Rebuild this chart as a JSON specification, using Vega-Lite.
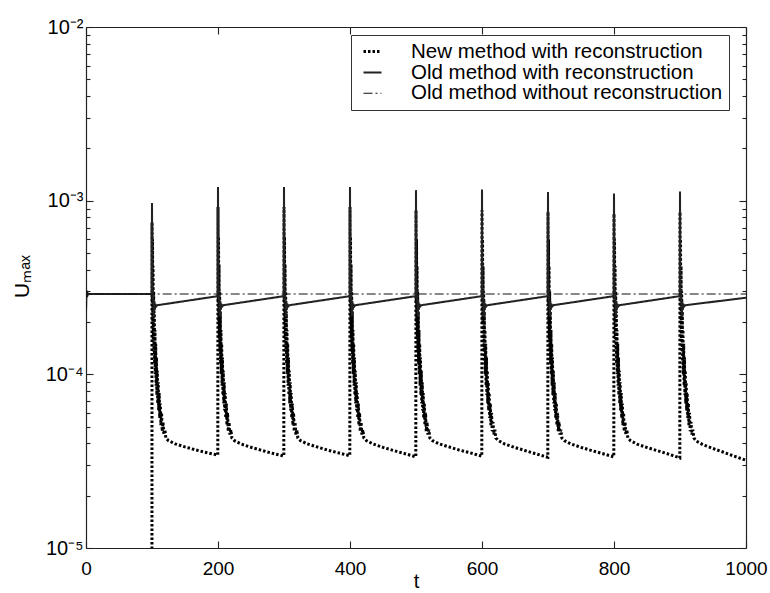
{
  "$schema": "https://vega.github.io/schema/vega-lite/v6.json",
  "width": 660,
  "height": 521,
  "autosize": "none",
  "padding": {"left": 86, "top": 27, "right": 24, "bottom": 45},
  "background": "white",
  "config": {
    "view": {"stroke": null},
    "axis": {"domainColor": "#222", "domainWidth": 1.2, "ticks": true, "tickColor": "#222", "tickWidth": 1.1, "labelColor": "#000", "labelFont": "Liberation Sans", "labelFontSize": 19, "grid": false, "titleFont": "Liberation Sans", "titleFontWeight": "normal", "titleColor": "#000", "titleFontSize": 20, "labelOverlap": false, "labelFlush": false, "labelBound": false, "zindex": 1}
  },
  "data": {"values": [
    {"t":0,"u":1e-6,"s":"N"},{"t":99.9,"u":1e-6,"s":"N"},
    {"t":100,"u":7.5e-4,"s":"N"},{"t":100.4,"u":2.6e-4,"s":"N"},{"t":100.8,"u":6.0e-4,"s":"N"},{"t":101.2,"u":2.0e-4,"s":"N"},{"t":101.6,"u":4.2e-4,"s":"N"},{"t":102,"u":1.6e-4,"s":"N"},{"t":102.5,"u":3.0e-4,"s":"N"},{"t":103,"u":1.35e-4,"s":"N"},{"t":103.5,"u":2.3e-4,"s":"N"},{"t":104,"u":1.15e-4,"s":"N"},{"t":104.5,"u":1.8e-4,"s":"N"},{"t":105,"u":1.0e-4,"s":"N"},{"t":105.6,"u":1.5e-4,"s":"N"},{"t":106.2,"u":8.6e-5,"s":"N"},{"t":106.8,"u":1.25e-4,"s":"N"},{"t":107.4,"u":7.6e-5,"s":"N"},{"t":108,"u":1.05e-4,"s":"N"},{"t":108.7,"u":6.8e-5,"s":"N"},{"t":109.4,"u":9.0e-5,"s":"N"},{"t":110.1,"u":6.2e-5,"s":"N"},{"t":110.9,"u":7.8e-5,"s":"N"},{"t":111.7,"u":5.6e-5,"s":"N"},{"t":112.6,"u":6.8e-5,"s":"N"},{"t":113.5,"u":5.1e-5,"s":"N"},{"t":114.5,"u":6.0e-5,"s":"N"},{"t":115.5,"u":4.7e-5,"s":"N"},{"t":116.7,"u":5.3e-5,"s":"N"},{"t":118,"u":4.5e-5,"s":"N"},{"t":119.5,"u":4.8e-5,"s":"N"},{"t":121,"u":4.3e-5,"s":"N"},{"t":125,"u":4.15e-5,"s":"N"},{"t":135,"u":3.98e-5,"s":"N"},{"t":150,"u":3.82e-5,"s":"N"},{"t":165,"u":3.68e-5,"s":"N"},{"t":180,"u":3.56e-5,"s":"N"},{"t":199.7,"u":3.43e-5,"s":"N"},
    {"t":200,"u":9.2e-4,"s":"N"},{"t":200.4,"u":2.6e-4,"s":"N"},{"t":200.8,"u":6.2e-4,"s":"N"},{"t":201.2,"u":2.0e-4,"s":"N"},{"t":201.6,"u":4.3e-4,"s":"N"},{"t":202,"u":1.6e-4,"s":"N"},{"t":202.5,"u":3.0e-4,"s":"N"},{"t":203,"u":1.35e-4,"s":"N"},{"t":203.5,"u":2.3e-4,"s":"N"},{"t":204,"u":1.15e-4,"s":"N"},{"t":204.5,"u":1.8e-4,"s":"N"},{"t":205,"u":1.0e-4,"s":"N"},{"t":205.6,"u":1.5e-4,"s":"N"},{"t":206.2,"u":8.6e-5,"s":"N"},{"t":206.8,"u":1.25e-4,"s":"N"},{"t":207.4,"u":7.6e-5,"s":"N"},{"t":208,"u":1.05e-4,"s":"N"},{"t":208.7,"u":6.8e-5,"s":"N"},{"t":209.4,"u":9.0e-5,"s":"N"},{"t":210.1,"u":6.2e-5,"s":"N"},{"t":210.9,"u":7.8e-5,"s":"N"},{"t":211.7,"u":5.6e-5,"s":"N"},{"t":212.6,"u":6.8e-5,"s":"N"},{"t":213.5,"u":5.1e-5,"s":"N"},{"t":214.5,"u":6.0e-5,"s":"N"},{"t":215.5,"u":4.7e-5,"s":"N"},{"t":216.7,"u":5.3e-5,"s":"N"},{"t":218,"u":4.5e-5,"s":"N"},{"t":219.5,"u":4.8e-5,"s":"N"},{"t":221,"u":4.3e-5,"s":"N"},{"t":225,"u":4.15e-5,"s":"N"},{"t":235,"u":3.97e-5,"s":"N"},{"t":250,"u":3.8e-5,"s":"N"},{"t":265,"u":3.66e-5,"s":"N"},{"t":280,"u":3.53e-5,"s":"N"},{"t":299.7,"u":3.38e-5,"s":"N"},
    {"t":300,"u":9.2e-4,"s":"N"},{"t":300.4,"u":2.6e-4,"s":"N"},{"t":300.8,"u":6.2e-4,"s":"N"},{"t":301.2,"u":2.0e-4,"s":"N"},{"t":301.6,"u":4.3e-4,"s":"N"},{"t":302,"u":1.6e-4,"s":"N"},{"t":302.5,"u":3.0e-4,"s":"N"},{"t":303,"u":1.35e-4,"s":"N"},{"t":303.5,"u":2.3e-4,"s":"N"},{"t":304,"u":1.15e-4,"s":"N"},{"t":304.5,"u":1.8e-4,"s":"N"},{"t":305,"u":1.0e-4,"s":"N"},{"t":305.6,"u":1.5e-4,"s":"N"},{"t":306.2,"u":8.6e-5,"s":"N"},{"t":306.8,"u":1.25e-4,"s":"N"},{"t":307.4,"u":7.6e-5,"s":"N"},{"t":308,"u":1.05e-4,"s":"N"},{"t":308.7,"u":6.8e-5,"s":"N"},{"t":309.4,"u":9.0e-5,"s":"N"},{"t":310.1,"u":6.2e-5,"s":"N"},{"t":310.9,"u":7.8e-5,"s":"N"},{"t":311.7,"u":5.6e-5,"s":"N"},{"t":312.6,"u":6.8e-5,"s":"N"},{"t":313.5,"u":5.1e-5,"s":"N"},{"t":314.5,"u":6.0e-5,"s":"N"},{"t":315.5,"u":4.7e-5,"s":"N"},{"t":316.7,"u":5.3e-5,"s":"N"},{"t":318,"u":4.5e-5,"s":"N"},{"t":319.5,"u":4.8e-5,"s":"N"},{"t":321,"u":4.3e-5,"s":"N"},{"t":325,"u":4.15e-5,"s":"N"},{"t":335,"u":3.98e-5,"s":"N"},{"t":350,"u":3.82e-5,"s":"N"},{"t":365,"u":3.67e-5,"s":"N"},{"t":380,"u":3.55e-5,"s":"N"},{"t":399.7,"u":3.4e-5,"s":"N"},
    {"t":400,"u":9.2e-4,"s":"N"},{"t":400.4,"u":2.6e-4,"s":"N"},{"t":400.8,"u":6.2e-4,"s":"N"},{"t":401.2,"u":2.0e-4,"s":"N"},{"t":401.6,"u":4.3e-4,"s":"N"},{"t":402,"u":1.6e-4,"s":"N"},{"t":402.5,"u":3.0e-4,"s":"N"},{"t":403,"u":1.35e-4,"s":"N"},{"t":403.5,"u":2.3e-4,"s":"N"},{"t":404,"u":1.15e-4,"s":"N"},{"t":404.5,"u":1.8e-4,"s":"N"},{"t":405,"u":1.0e-4,"s":"N"},{"t":405.6,"u":1.5e-4,"s":"N"},{"t":406.2,"u":8.6e-5,"s":"N"},{"t":406.8,"u":1.25e-4,"s":"N"},{"t":407.4,"u":7.6e-5,"s":"N"},{"t":408,"u":1.05e-4,"s":"N"},{"t":408.7,"u":6.8e-5,"s":"N"},{"t":409.4,"u":9.0e-5,"s":"N"},{"t":410.1,"u":6.2e-5,"s":"N"},{"t":410.9,"u":7.8e-5,"s":"N"},{"t":411.7,"u":5.6e-5,"s":"N"},{"t":412.6,"u":6.8e-5,"s":"N"},{"t":413.5,"u":5.1e-5,"s":"N"},{"t":414.5,"u":6.0e-5,"s":"N"},{"t":415.5,"u":4.7e-5,"s":"N"},{"t":416.7,"u":5.3e-5,"s":"N"},{"t":418,"u":4.5e-5,"s":"N"},{"t":419.5,"u":4.8e-5,"s":"N"},{"t":421,"u":4.3e-5,"s":"N"},{"t":425,"u":4.15e-5,"s":"N"},{"t":435,"u":3.97e-5,"s":"N"},{"t":450,"u":3.8e-5,"s":"N"},{"t":465,"u":3.65e-5,"s":"N"},{"t":480,"u":3.52e-5,"s":"N"},{"t":499.7,"u":3.35e-5,"s":"N"},
    {"t":500,"u":8.8e-4,"s":"N"},{"t":500.4,"u":2.6e-4,"s":"N"},{"t":500.8,"u":6.0e-4,"s":"N"},{"t":501.2,"u":2.0e-4,"s":"N"},{"t":501.6,"u":4.2e-4,"s":"N"},{"t":502,"u":1.6e-4,"s":"N"},{"t":502.5,"u":3.0e-4,"s":"N"},{"t":503,"u":1.35e-4,"s":"N"},{"t":503.5,"u":2.3e-4,"s":"N"},{"t":504,"u":1.15e-4,"s":"N"},{"t":504.5,"u":1.8e-4,"s":"N"},{"t":505,"u":1.0e-4,"s":"N"},{"t":505.6,"u":1.5e-4,"s":"N"},{"t":506.2,"u":8.6e-5,"s":"N"},{"t":506.8,"u":1.25e-4,"s":"N"},{"t":507.4,"u":7.6e-5,"s":"N"},{"t":508,"u":1.05e-4,"s":"N"},{"t":508.7,"u":6.8e-5,"s":"N"},{"t":509.4,"u":9.0e-5,"s":"N"},{"t":510.1,"u":6.2e-5,"s":"N"},{"t":510.9,"u":7.8e-5,"s":"N"},{"t":511.7,"u":5.6e-5,"s":"N"},{"t":512.6,"u":6.8e-5,"s":"N"},{"t":513.5,"u":5.1e-5,"s":"N"},{"t":514.5,"u":6.0e-5,"s":"N"},{"t":515.5,"u":4.7e-5,"s":"N"},{"t":516.7,"u":5.3e-5,"s":"N"},{"t":518,"u":4.5e-5,"s":"N"},{"t":519.5,"u":4.8e-5,"s":"N"},{"t":521,"u":4.3e-5,"s":"N"},{"t":525,"u":4.15e-5,"s":"N"},{"t":535,"u":3.98e-5,"s":"N"},{"t":550,"u":3.82e-5,"s":"N"},{"t":565,"u":3.67e-5,"s":"N"},{"t":580,"u":3.55e-5,"s":"N"},{"t":599.7,"u":3.38e-5,"s":"N"},
    {"t":600,"u":8.8e-4,"s":"N"},{"t":600.4,"u":2.6e-4,"s":"N"},{"t":600.8,"u":6.0e-4,"s":"N"},{"t":601.2,"u":2.0e-4,"s":"N"},{"t":601.6,"u":4.2e-4,"s":"N"},{"t":602,"u":1.6e-4,"s":"N"},{"t":602.5,"u":3.0e-4,"s":"N"},{"t":603,"u":1.35e-4,"s":"N"},{"t":603.5,"u":2.3e-4,"s":"N"},{"t":604,"u":1.15e-4,"s":"N"},{"t":604.5,"u":1.8e-4,"s":"N"},{"t":605,"u":1.0e-4,"s":"N"},{"t":605.6,"u":1.5e-4,"s":"N"},{"t":606.2,"u":8.6e-5,"s":"N"},{"t":606.8,"u":1.25e-4,"s":"N"},{"t":607.4,"u":7.6e-5,"s":"N"},{"t":608,"u":1.05e-4,"s":"N"},{"t":608.7,"u":6.8e-5,"s":"N"},{"t":609.4,"u":9.0e-5,"s":"N"},{"t":610.1,"u":6.2e-5,"s":"N"},{"t":610.9,"u":7.8e-5,"s":"N"},{"t":611.7,"u":5.6e-5,"s":"N"},{"t":612.6,"u":6.8e-5,"s":"N"},{"t":613.5,"u":5.1e-5,"s":"N"},{"t":614.5,"u":6.0e-5,"s":"N"},{"t":615.5,"u":4.7e-5,"s":"N"},{"t":616.7,"u":5.3e-5,"s":"N"},{"t":618,"u":4.5e-5,"s":"N"},{"t":619.5,"u":4.8e-5,"s":"N"},{"t":621,"u":4.3e-5,"s":"N"},{"t":625,"u":4.15e-5,"s":"N"},{"t":635,"u":3.96e-5,"s":"N"},{"t":650,"u":3.79e-5,"s":"N"},{"t":665,"u":3.64e-5,"s":"N"},{"t":680,"u":3.5e-5,"s":"N"},{"t":699.7,"u":3.33e-5,"s":"N"},
    {"t":700,"u":8.6e-4,"s":"N"},{"t":700.4,"u":2.6e-4,"s":"N"},{"t":700.8,"u":6.0e-4,"s":"N"},{"t":701.2,"u":2.0e-4,"s":"N"},{"t":701.6,"u":4.2e-4,"s":"N"},{"t":702,"u":1.6e-4,"s":"N"},{"t":702.5,"u":3.0e-4,"s":"N"},{"t":703,"u":1.35e-4,"s":"N"},{"t":703.5,"u":2.3e-4,"s":"N"},{"t":704,"u":1.15e-4,"s":"N"},{"t":704.5,"u":1.8e-4,"s":"N"},{"t":705,"u":1.0e-4,"s":"N"},{"t":705.6,"u":1.5e-4,"s":"N"},{"t":706.2,"u":8.6e-5,"s":"N"},{"t":706.8,"u":1.25e-4,"s":"N"},{"t":707.4,"u":7.6e-5,"s":"N"},{"t":708,"u":1.05e-4,"s":"N"},{"t":708.7,"u":6.8e-5,"s":"N"},{"t":709.4,"u":9.0e-5,"s":"N"},{"t":710.1,"u":6.2e-5,"s":"N"},{"t":710.9,"u":7.8e-5,"s":"N"},{"t":711.7,"u":5.6e-5,"s":"N"},{"t":712.6,"u":6.8e-5,"s":"N"},{"t":713.5,"u":5.1e-5,"s":"N"},{"t":714.5,"u":6.0e-5,"s":"N"},{"t":715.5,"u":4.7e-5,"s":"N"},{"t":716.7,"u":5.3e-5,"s":"N"},{"t":718,"u":4.5e-5,"s":"N"},{"t":719.5,"u":4.8e-5,"s":"N"},{"t":721,"u":4.3e-5,"s":"N"},{"t":725,"u":4.15e-5,"s":"N"},{"t":735,"u":3.97e-5,"s":"N"},{"t":750,"u":3.8e-5,"s":"N"},{"t":765,"u":3.65e-5,"s":"N"},{"t":780,"u":3.52e-5,"s":"N"},{"t":799.7,"u":3.35e-5,"s":"N"},
    {"t":800,"u":8.4e-4,"s":"N"},{"t":800.4,"u":2.6e-4,"s":"N"},{"t":800.8,"u":6.0e-4,"s":"N"},{"t":801.2,"u":2.0e-4,"s":"N"},{"t":801.6,"u":4.2e-4,"s":"N"},{"t":802,"u":1.6e-4,"s":"N"},{"t":802.5,"u":3.0e-4,"s":"N"},{"t":803,"u":1.35e-4,"s":"N"},{"t":803.5,"u":2.3e-4,"s":"N"},{"t":804,"u":1.15e-4,"s":"N"},{"t":804.5,"u":1.8e-4,"s":"N"},{"t":805,"u":1.0e-4,"s":"N"},{"t":805.6,"u":1.5e-4,"s":"N"},{"t":806.2,"u":8.6e-5,"s":"N"},{"t":806.8,"u":1.25e-4,"s":"N"},{"t":807.4,"u":7.6e-5,"s":"N"},{"t":808,"u":1.05e-4,"s":"N"},{"t":808.7,"u":6.8e-5,"s":"N"},{"t":809.4,"u":9.0e-5,"s":"N"},{"t":810.1,"u":6.2e-5,"s":"N"},{"t":810.9,"u":7.8e-5,"s":"N"},{"t":811.7,"u":5.6e-5,"s":"N"},{"t":812.6,"u":6.8e-5,"s":"N"},{"t":813.5,"u":5.1e-5,"s":"N"},{"t":814.5,"u":6.0e-5,"s":"N"},{"t":815.5,"u":4.7e-5,"s":"N"},{"t":816.7,"u":5.3e-5,"s":"N"},{"t":818,"u":4.5e-5,"s":"N"},{"t":819.5,"u":4.8e-5,"s":"N"},{"t":821,"u":4.3e-5,"s":"N"},{"t":825,"u":4.15e-5,"s":"N"},{"t":835,"u":3.96e-5,"s":"N"},{"t":850,"u":3.79e-5,"s":"N"},{"t":865,"u":3.64e-5,"s":"N"},{"t":880,"u":3.5e-5,"s":"N"},{"t":899.7,"u":3.3e-5,"s":"N"},
    {"t":900,"u":8.6e-4,"s":"N"},{"t":900.4,"u":2.6e-4,"s":"N"},{"t":900.8,"u":6.0e-4,"s":"N"},{"t":901.2,"u":2.0e-4,"s":"N"},{"t":901.6,"u":4.2e-4,"s":"N"},{"t":902,"u":1.6e-4,"s":"N"},{"t":902.5,"u":3.0e-4,"s":"N"},{"t":903,"u":1.35e-4,"s":"N"},{"t":903.5,"u":2.3e-4,"s":"N"},{"t":904,"u":1.15e-4,"s":"N"},{"t":904.5,"u":1.8e-4,"s":"N"},{"t":905,"u":1.0e-4,"s":"N"},{"t":905.6,"u":1.5e-4,"s":"N"},{"t":906.2,"u":8.6e-5,"s":"N"},{"t":906.8,"u":1.25e-4,"s":"N"},{"t":907.4,"u":7.6e-5,"s":"N"},{"t":908,"u":1.05e-4,"s":"N"},{"t":908.7,"u":6.8e-5,"s":"N"},{"t":909.4,"u":9.0e-5,"s":"N"},{"t":910.1,"u":6.2e-5,"s":"N"},{"t":910.9,"u":7.8e-5,"s":"N"},{"t":911.7,"u":5.6e-5,"s":"N"},{"t":912.6,"u":6.8e-5,"s":"N"},{"t":913.5,"u":5.1e-5,"s":"N"},{"t":914.5,"u":6.0e-5,"s":"N"},{"t":915.5,"u":4.7e-5,"s":"N"},{"t":916.7,"u":5.3e-5,"s":"N"},{"t":918,"u":4.5e-5,"s":"N"},{"t":919.5,"u":4.8e-5,"s":"N"},{"t":921,"u":4.3e-5,"s":"N"},{"t":925,"u":4.12e-5,"s":"N"},{"t":935,"u":3.93e-5,"s":"N"},{"t":950,"u":3.74e-5,"s":"N"},{"t":965,"u":3.57e-5,"s":"N"},{"t":980,"u":3.4e-5,"s":"N"},{"t":1000,"u":3.2e-5,"s":"N"},
    {"t":0,"u":2.3e-4,"s":"O"},{"t":0.8,"u":3.05e-4,"s":"O"},{"t":1.6,"u":2.78e-4,"s":"O"},{"t":2.4,"u":2.95e-4,"s":"O"},{"t":3.5,"u":2.88e-4,"s":"O"},{"t":5,"u":2.9e-4,"s":"O"},{"t":99.8,"u":2.9e-4,"s":"O"},
    {"t":100,"u":9.7e-4,"s":"O"},{"t":100.4,"u":3.1e-4,"s":"O"},{"t":100.8,"u":2.7e-4,"s":"O"},{"t":101.2,"u":3.1e-4,"s":"O"},{"t":101.6,"u":2.75e-4,"s":"O"},{"t":102.2,"u":2.6e-4,"s":"O"},{"t":102.8,"u":2.15e-4,"s":"O"},{"t":103.4,"u":2.65e-4,"s":"O"},{"t":104.2,"u":2.35e-4,"s":"O"},{"t":105,"u":2.55e-4,"s":"O"},{"t":106,"u":2.45e-4,"s":"O"},{"t":108,"u":2.5e-4,"s":"O"},{"t":199.8,"u":2.82e-4,"s":"O"},
    {"t":200,"u":1.2e-3,"s":"O"},{"t":200.4,"u":3.1e-4,"s":"O"},{"t":200.8,"u":2.7e-4,"s":"O"},{"t":201.2,"u":3.1e-4,"s":"O"},{"t":201.6,"u":2.75e-4,"s":"O"},{"t":202.2,"u":2.6e-4,"s":"O"},{"t":202.8,"u":2.15e-4,"s":"O"},{"t":203.4,"u":2.65e-4,"s":"O"},{"t":204.2,"u":2.35e-4,"s":"O"},{"t":205,"u":2.55e-4,"s":"O"},{"t":206,"u":2.45e-4,"s":"O"},{"t":208,"u":2.5e-4,"s":"O"},{"t":299.8,"u":2.82e-4,"s":"O"},
    {"t":300,"u":1.2e-3,"s":"O"},{"t":300.4,"u":3.1e-4,"s":"O"},{"t":300.8,"u":2.7e-4,"s":"O"},{"t":301.2,"u":3.1e-4,"s":"O"},{"t":301.6,"u":2.75e-4,"s":"O"},{"t":302.2,"u":2.6e-4,"s":"O"},{"t":302.8,"u":2.15e-4,"s":"O"},{"t":303.4,"u":2.65e-4,"s":"O"},{"t":304.2,"u":2.35e-4,"s":"O"},{"t":305,"u":2.55e-4,"s":"O"},{"t":306,"u":2.45e-4,"s":"O"},{"t":308,"u":2.5e-4,"s":"O"},{"t":399.8,"u":2.82e-4,"s":"O"},
    {"t":400,"u":1.2e-3,"s":"O"},{"t":400.4,"u":3.1e-4,"s":"O"},{"t":400.8,"u":2.7e-4,"s":"O"},{"t":401.2,"u":3.1e-4,"s":"O"},{"t":401.6,"u":2.75e-4,"s":"O"},{"t":402.2,"u":2.6e-4,"s":"O"},{"t":402.8,"u":2.15e-4,"s":"O"},{"t":403.4,"u":2.65e-4,"s":"O"},{"t":404.2,"u":2.35e-4,"s":"O"},{"t":405,"u":2.55e-4,"s":"O"},{"t":406,"u":2.45e-4,"s":"O"},{"t":408,"u":2.5e-4,"s":"O"},{"t":499.8,"u":2.82e-4,"s":"O"},
    {"t":500,"u":1.15e-3,"s":"O"},{"t":500.4,"u":3.1e-4,"s":"O"},{"t":500.8,"u":2.7e-4,"s":"O"},{"t":501.2,"u":3.1e-4,"s":"O"},{"t":501.6,"u":2.75e-4,"s":"O"},{"t":502.2,"u":2.6e-4,"s":"O"},{"t":502.8,"u":2.15e-4,"s":"O"},{"t":503.4,"u":2.65e-4,"s":"O"},{"t":504.2,"u":2.35e-4,"s":"O"},{"t":505,"u":2.55e-4,"s":"O"},{"t":506,"u":2.45e-4,"s":"O"},{"t":508,"u":2.5e-4,"s":"O"},{"t":599.8,"u":2.82e-4,"s":"O"},
    {"t":600,"u":1.16e-3,"s":"O"},{"t":600.4,"u":3.1e-4,"s":"O"},{"t":600.8,"u":2.7e-4,"s":"O"},{"t":601.2,"u":3.1e-4,"s":"O"},{"t":601.6,"u":2.75e-4,"s":"O"},{"t":602.2,"u":2.6e-4,"s":"O"},{"t":602.8,"u":2.15e-4,"s":"O"},{"t":603.4,"u":2.65e-4,"s":"O"},{"t":604.2,"u":2.35e-4,"s":"O"},{"t":605,"u":2.55e-4,"s":"O"},{"t":606,"u":2.45e-4,"s":"O"},{"t":608,"u":2.5e-4,"s":"O"},{"t":699.8,"u":2.82e-4,"s":"O"},
    {"t":700,"u":1.12e-3,"s":"O"},{"t":700.4,"u":3.1e-4,"s":"O"},{"t":700.8,"u":2.7e-4,"s":"O"},{"t":701.2,"u":3.1e-4,"s":"O"},{"t":701.6,"u":2.75e-4,"s":"O"},{"t":702.2,"u":2.6e-4,"s":"O"},{"t":702.8,"u":2.15e-4,"s":"O"},{"t":703.4,"u":2.65e-4,"s":"O"},{"t":704.2,"u":2.35e-4,"s":"O"},{"t":705,"u":2.55e-4,"s":"O"},{"t":706,"u":2.45e-4,"s":"O"},{"t":708,"u":2.5e-4,"s":"O"},{"t":799.8,"u":2.82e-4,"s":"O"},
    {"t":800,"u":1.1e-3,"s":"O"},{"t":800.4,"u":3.1e-4,"s":"O"},{"t":800.8,"u":2.7e-4,"s":"O"},{"t":801.2,"u":3.1e-4,"s":"O"},{"t":801.6,"u":2.75e-4,"s":"O"},{"t":802.2,"u":2.6e-4,"s":"O"},{"t":802.8,"u":2.15e-4,"s":"O"},{"t":803.4,"u":2.65e-4,"s":"O"},{"t":804.2,"u":2.35e-4,"s":"O"},{"t":805,"u":2.55e-4,"s":"O"},{"t":806,"u":2.45e-4,"s":"O"},{"t":808,"u":2.5e-4,"s":"O"},{"t":899.8,"u":2.82e-4,"s":"O"},
    {"t":900,"u":1.13e-3,"s":"O"},{"t":900.4,"u":3.1e-4,"s":"O"},{"t":900.8,"u":2.7e-4,"s":"O"},{"t":901.2,"u":3.1e-4,"s":"O"},{"t":901.6,"u":2.75e-4,"s":"O"},{"t":902.2,"u":2.6e-4,"s":"O"},{"t":902.8,"u":2.15e-4,"s":"O"},{"t":903.4,"u":2.65e-4,"s":"O"},{"t":904.2,"u":2.35e-4,"s":"O"},{"t":905,"u":2.55e-4,"s":"O"},{"t":906,"u":2.45e-4,"s":"O"},{"t":908,"u":2.5e-4,"s":"O"},{"t":1000,"u":2.76e-4,"s":"O"},
    {"t":0,"u":2.35e-4,"s":"W"},{"t":0.8,"u":3.0e-4,"s":"W"},{"t":1.6,"u":2.8e-4,"s":"W"},{"t":2.5,"u":2.92e-4,"s":"W"},{"t":4,"u":2.9e-4,"s":"W"},{"t":1000,"u":2.9e-4,"s":"W"}
  ]},
  "layer": [
    {
      "mark": {"type": "line", "clip": true, "strokeCap": "butt", "strokeJoin": "miter"},
      "encoding": {
        "x": {"field": "t", "type": "quantitative", "scale": {"domain": [0, 1000], "nice": false, "zero": false},
          "axis": {"orient": "bottom", "values": [0, 200, 400, 600, 800, 1000], "format": "d", "ticks": true, "tickSize": -7, "labelPadding": 18, "title": "t", "titleX": 330, "titleY": 33, "titleBaseline": "middle", "titleAlign": "center"}},
        "y": {"field": "u", "type": "quantitative", "scale": {"type": "log", "domain": [1e-5, 1e-2], "nice": false},
          "axis": {"orient": "left",
            "values": [1e-5,2e-5,3e-5,4e-5,5e-5,6e-5,7e-5,8e-5,9e-5,1e-4,2e-4,3e-4,4e-4,5e-4,6e-4,7e-4,8e-4,9e-4,1e-3,2e-3,3e-3,4e-3,5e-3,6e-3,7e-3,8e-3,9e-3,1e-2],
            "ticks": true,
            "tickSize": {"condition": {"test": "abs(log(datum.value)/LN10 - round(log(datum.value)/LN10)) < 0.001", "value": -7}, "value": -4},
            "labelExpr": "abs(datum.value - 1e-5) < 1e-9 ? '10⁻⁵' : abs(datum.value - 1e-4) < 1e-8 ? '10⁻⁴' : abs(datum.value - 1e-3) < 1e-7 ? '10⁻³' : abs(datum.value - 1e-2) < 1e-6 ? '10⁻²' : ''",
            "labelPadding": 10, "labelFontSize": 20,
            "title": "Uₘₐₓ", "titleX": -64, "titleY": 249, "titleAngle": -90, "titleBaseline": "middle", "titleAlign": "center", "titleFontSize": 21}},
        "color": {"field": "s", "type": "nominal",
          "scale": {"domain": ["N", "O", "W"], "range": ["#000000", "#222222", "#111111"]},
          "legend": {"title": null, "orient": "none", "legendX": 265, "legendY": 8, "strokeColor": "#333", "fillColor": "white", "padding": 6,
            "symbolType": "stroke", "symbolSize": 324, "symbolOffset": 5, "labelOffset": 28, "labelFontSize": 20.5, "labelFont": "Liberation Sans", "labelColor": "#000", "rowPadding": 0, "labelLimit": 500,
            "labelExpr": "datum.label == 'N' ? 'New method with reconstruction' : datum.label == 'O' ? 'Old method with reconstruction' : 'Old method without reconstruction'"}},
        "strokeDash": {"field": "s", "type": "nominal", "scale": {"domain": ["N", "O", "W"], "range": [[2.5, 2], [1, 0], [9, 3, 2, 3]]}},
        "strokeWidth": {"field": "s", "type": "nominal", "scale": {"domain": ["N", "O", "W"], "range": [3, 1.1, 1.2]}}
      }
    },
    {
      "mark": {"type": "line", "clip": true, "strokeOpacity": 0},
      "encoding": {
        "x": {"field": "t", "type": "quantitative", "axis": {"orient": "top", "values": [0, 200, 400, 600, 800, 1000], "ticks": true, "tickSize": -7, "labels": false, "title": null}},
        "y": {"field": "u", "type": "quantitative", "axis": {"orient": "right",
            "values": [1e-5,2e-5,3e-5,4e-5,5e-5,6e-5,7e-5,8e-5,9e-5,1e-4,2e-4,3e-4,4e-4,5e-4,6e-4,7e-4,8e-4,9e-4,1e-3,2e-3,3e-3,4e-3,5e-3,6e-3,7e-3,8e-3,9e-3,1e-2],
            "ticks": true,
            "tickSize": {"condition": {"test": "abs(log(datum.value)/LN10 - round(log(datum.value)/LN10)) < 0.001", "value": -7}, "value": -4},
            "labels": false, "title": null}}
      }
    }
  ],
  "resolve": {"axis": {"x": "independent", "y": "independent"}}
}
